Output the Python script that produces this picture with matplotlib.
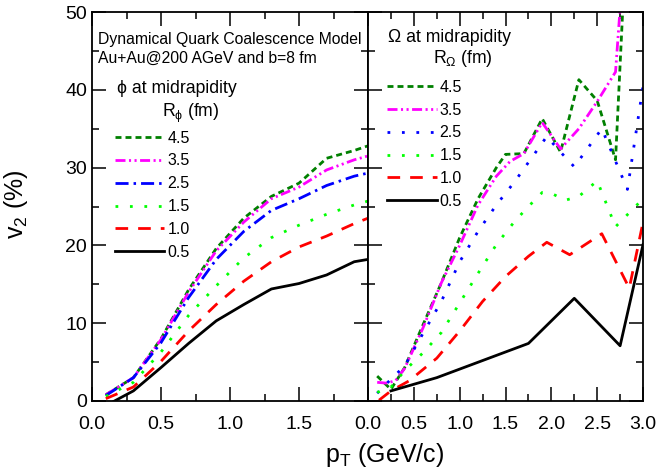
import matplotlib
matplotlib.use("Agg")
import matplotlib.pyplot as plt

plt.rcParams['font.family'] = ['Liberation Sans', 'DejaVu Sans']
plt.rcParams['mathtext.default'] = 'regular'
plt.rcParams['lines.scale_dashes'] = False

# ==========================================================
# DATA - phi meson (left panel)
# ==========================================================

phi_pt = [0.1, 0.3, 0.5, 0.7, 0.9, 1.1, 1.3, 1.5, 1.7, 1.9, 2.0]

phi_v2_45 = [0.8, 3.0, 8.0, 14.3, 19.6, 23.5, 26.3, 28.0, 31.2, 32.2, 32.8]
phi_v2_35 = [0.8, 3.0, 7.9, 14.0, 19.3, 23.0, 26.0, 27.5, 29.7, 31.0, 31.5]
phi_v2_25 = [0.7, 3.0, 7.5, 13.3, 18.2, 21.8, 24.5, 26.0, 27.7, 28.9, 29.3]
phi_v2_15 = [0.6, 2.4, 6.3, 11.0, 14.8, 18.4, 21.0, 22.6, 24.0, 25.2, 25.7]
phi_v2_10 = [0.3, 1.8, 5.1, 9.0, 12.4, 15.4, 17.9, 19.8, 21.2, 22.8, 23.5]
phi_v2_05 = [-0.6, 1.3, 4.3, 7.4, 10.3, 12.4, 14.4, 15.1, 16.2, 17.9, 18.2]

# ==========================================================
# DATA - Omega baryon (right panel)
# ==========================================================

om_pt_45 = [0.1, 0.25, 0.4, 0.6, 0.8, 1.0, 1.2, 1.4, 1.5, 1.7, 1.9, 2.1, 2.3, 2.5, 2.7, 2.9]
om_v2_45 = [3.2, 1.5, 4.3, 9.8, 15.2, 21.0, 26.0, 30.0, 31.7, 31.8, 36.3, 32.0, 41.3, 38.6, 31.0, 80.0]

om_pt_35 = [0.1, 0.2, 0.3, 0.4, 0.6, 0.8, 1.0, 1.2, 1.4, 1.55, 1.7, 1.9, 2.1, 2.3, 2.5, 2.7, 2.9]
om_v2_35 = [2.4, 2.3, 2.6, 4.2, 9.4, 15.2, 20.0, 25.2, 28.9, 30.8, 31.8, 35.8, 32.4, 35.0, 38.5, 42.3, 75.0]

om_pt_25 = [0.1, 0.25, 0.4, 0.6, 0.8, 1.0, 1.2, 1.4, 1.6, 1.8, 1.95, 2.1, 2.25, 2.55, 2.83, 3.0]
om_v2_25 = [1.0, 2.8, 4.5, 8.7, 12.8, 17.9, 21.8, 25.2, 28.2, 31.5, 34.0, 32.0, 30.1, 35.0, 27.2, 40.5]

om_pt_15 = [0.1, 0.25, 0.4, 0.6, 0.8, 1.0, 1.2, 1.4, 1.6, 1.75, 1.9, 2.0, 2.15, 2.3, 2.5, 2.7, 2.95, 3.0]
om_v2_15 = [1.1, 1.8, 3.9, 6.2, 8.8, 12.6, 16.4, 20.1, 23.1, 25.0, 26.8, 26.7, 25.8, 26.3, 28.3, 22.4, 25.4, 25.2]

om_pt_10 = [0.12, 0.25, 0.45, 0.75, 1.0, 1.25, 1.5, 1.75, 1.95, 2.2, 2.55, 2.85, 3.0]
om_v2_10 = [0.1, 1.3, 2.6, 5.5, 9.0, 12.8, 16.0, 18.6, 20.4, 18.8, 21.5, 14.5, 23.0]

om_pt_05 = [0.25, 0.75, 1.25, 1.75, 2.25, 2.75, 3.0]
om_v2_05 = [1.3, 3.0, 5.2, 7.4, 13.2, 7.1, 20.1]

radius_labels = ["4.5", "3.5", "2.5", "1.5", "1.0", "0.5"]

# ==========================================================
# STYLES
# ==========================================================

LW = 2.0
style_45 = dict(color="#008000", lw=LW, dashes=(4.3, 2.9))
style_35 = dict(color="#ff00ff", lw=LW, dashes=(7.2, 2.5, 1.5, 2.5, 1.5, 2.5))
style_25_dd = dict(color="#0000ff", lw=LW, dashes=(9.4, 3.6, 1.8, 3.6))
style_25_dot = dict(color="#0000ff", lw=LW, dashes=(2.0, 8.4))
style_15 = dict(color="#00ff00", lw=LW, dashes=(2.0, 8.4))
style_10 = dict(color="#ff0000", lw=LW, dashes=(9.1, 7.2))
style_05 = dict(color="black", lw=LW, linestyle="-")

fig = plt.figure(figsize=(6.6, 4.75), dpi=100)
ax_l = fig.add_axes([0.1394, 0.1558, 0.4182, 0.8189])
ax_r = fig.add_axes([0.5576, 0.1558, 0.4167, 0.8189])

# ==========================================================
# LEFT PANEL
# ==========================================================

ax = ax_l
h = []
h += ax.plot(phi_pt, phi_v2_45, **style_45)
h += ax.plot(phi_pt, phi_v2_35, **style_35)
h += ax.plot(phi_pt, phi_v2_25, **style_25_dd)
h += ax.plot(phi_pt, phi_v2_15, **style_15)
h += ax.plot(phi_pt, phi_v2_10, **style_10)
h += ax.plot(phi_pt, phi_v2_05, **style_05)

ax.set_xlim(0, 2.0)
ax.set_ylim(0, 50)
ax.set_xticks([0.0, 0.5, 1.0, 1.5])
ax.set_xticklabels(["0.0", "0.5", "1.0", "1.5"])
ax.set_xticks([0.25, 0.75, 1.25, 1.75], minor=True)
ax.set_yticks([0, 10, 20, 30, 40, 50])
ax.set_yticks([5, 15, 25, 35, 45], minor=True)
ax.set_ylabel("v$_2$ (%)", fontsize=18)
ax.yaxis.set_label_coords(-0.225, 0.505)

ax.text(0.022, 0.918, "Dynamical Quark Coalescence Model", transform=ax.transAxes,
        fontsize=11.3, va="baseline")
ax.text(0.022, 0.869, "Au+Au@200 AGeV and b=8 fm", transform=ax.transAxes,
        fontsize=11.3, va="baseline")
ax.text(0.091, 0.792, "\u03d5 at midrapidity", transform=ax.transAxes,
        fontsize=12.7, va="baseline")
ax.text(0.254, 0.730, "R$_{\\phi}$ (fm)", transform=ax.transAxes,
        fontsize=12.7, va="baseline")

ax.legend(h, radius_labels, loc="upper left", bbox_to_anchor=(0.083, 0.695),
          frameon=False, fontsize=11.5, handlelength=3.1, handletextpad=0.2,
          borderpad=0, borderaxespad=0, labelspacing=0.49)

# ==========================================================
# RIGHT PANEL
# ==========================================================

ax = ax_r
h = []
h += ax.plot(om_pt_45, om_v2_45, **style_45)
h += ax.plot(om_pt_35, om_v2_35, **style_35)
h += ax.plot(om_pt_25, om_v2_25, **style_25_dot)
h += ax.plot(om_pt_15, om_v2_15, **style_15)
h += ax.plot(om_pt_10, om_v2_10, **style_10)
h += ax.plot(om_pt_05, om_v2_05, **style_05)

ax.set_xlim(0, 3.0)
ax.set_ylim(0, 50)
ax.set_xticks([0.0, 0.5, 1.0, 1.5, 2.0, 2.5, 3.0])
ax.set_xticklabels(["0.0", "0.5", "1.0", "1.5", "2.0", "2.5", "3.0"])
ax.set_xticks([0.25, 0.75, 1.25, 1.75, 2.25, 2.75], minor=True)
ax.set_yticks([0, 10, 20, 30, 40, 50])
ax.set_yticks([5, 15, 25, 35, 45], minor=True)
ax.set_yticklabels([])

ax.text(0.073, 0.923, "\u03a9 at midrapidity", transform=ax.transAxes,
        fontsize=12.7, va="baseline")
ax.text(0.236, 0.869, "R$_{\\Omega}$ (fm)", transform=ax.transAxes,
        fontsize=12.7, va="baseline")

ax.legend(h, radius_labels, loc="upper left", bbox_to_anchor=(0.069, 0.826),
          frameon=False, fontsize=11.5, handlelength=3.1, handletextpad=0.2,
          borderpad=0, borderaxespad=0, labelspacing=0.49)

# ==========================================================
# COMMON AXIS STYLE
# ==========================================================

for ax in (ax_l, ax_r):
    for sp in ax.spines.values():
        sp.set_linewidth(1.3)
    ax.tick_params(which="both", direction="in", top=True, right=True,
                   labelsize=14, width=1.1)
    ax.tick_params(which="major", length=10)
    ax.tick_params(which="minor", length=5)
    ax.tick_params(axis="x", pad=11)

fig.text(0.583, 0.042, "p$_T$ (GeV/c)", fontsize=18, ha="center", va="center")

plt.savefig("out.png", dpi=100)
plt.close()
